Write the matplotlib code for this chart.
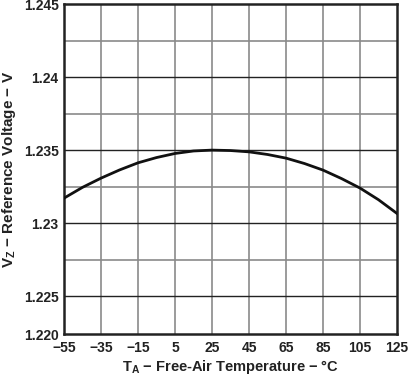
import matplotlib
matplotlib.use("Agg")
import matplotlib.pyplot as plt

plt.rcParams['font.family'] = ['Liberation Sans', 'DejaVu Sans']
plt.rcParams['mathtext.fontset'] = 'custom'
plt.rcParams['mathtext.rm'] = 'Liberation Sans:bold'
plt.rcParams['mathtext.it'] = 'Liberation Sans:bold'
plt.rcParams['mathtext.bf'] = 'Liberation Sans:bold'

temp_c = [-55, -45, -35, -25, -15, -5, 5, 15, 25, 35, 45, 55, 65, 75, 85, 95, 105, 115, 125]
vz = [1.23171, 1.23245, 1.23308, 1.23364, 1.23413, 1.23449, 1.23477, 1.23494, 1.23500,
      1.23497, 1.23488, 1.23470, 1.23445, 1.23408, 1.23363, 1.23305, 1.23240, 1.23160, 1.23066]

x_ticks = [-55, -35, -15, 5, 25, 45, 65, 85, 105, 125]
x_labels = ['−55', '−35', '−15', '5', '25', '45', '65', '85', '105', '125']
y_ticks = [1.2224, 1.225, 1.23, 1.235, 1.24, 1.245]
y_labels = ['1.220', '1.225', '1.23', '1.235', '1.24', '1.245']
y_minor = [1.2275, 1.2325, 1.2375, 1.2425]

fig = plt.figure(figsize=(4.08, 3.78), dpi=100)
ax = fig.add_axes([0.157, 0.1164, 0.816, 0.8726])

for xt in x_ticks[1:-1]:
    ax.axvline(xt, color='#8a8a8a', lw=1.2, zorder=1)
for yt in y_ticks[1:-1]:
    ax.axhline(yt, color='#222222', lw=1.0, zorder=1)
for yt in y_minor:
    ax.axhline(yt, color='#8a8a8a', lw=1.2, zorder=1)

ax.plot(temp_c, vz, color='#111111', lw=2.0, zorder=3)

ax.set_xlim(-55, 125)
ax.set_ylim(1.2224, 1.245)
ax.set_xticks(x_ticks)
ax.set_xticklabels(x_labels, fontsize=10, fontweight='bold')
ax.set_yticks(y_ticks)
ax.set_yticklabels(y_labels, fontsize=10, fontweight='bold')
ax.tick_params(axis='x', length=0, pad=5, colors='#222222')
ax.tick_params(axis='y', length=0, pad=4, colors='#222222')
for s in ax.spines.values():
    s.set_linewidth(1.8)
    s.set_color('#222222')

ax.set_xlabel(r'T$_\mathrm{A}$ − Free-Air Temperature − °C', fontsize=10.5, fontweight='bold', color='#222222', labelpad=2)
ax.set_ylabel(r'V$_\mathrm{Z}$ − Reference Voltage − V', fontsize=11, fontweight='bold', color='#222222', labelpad=4)

fig.savefig('out.png', dpi=100)
